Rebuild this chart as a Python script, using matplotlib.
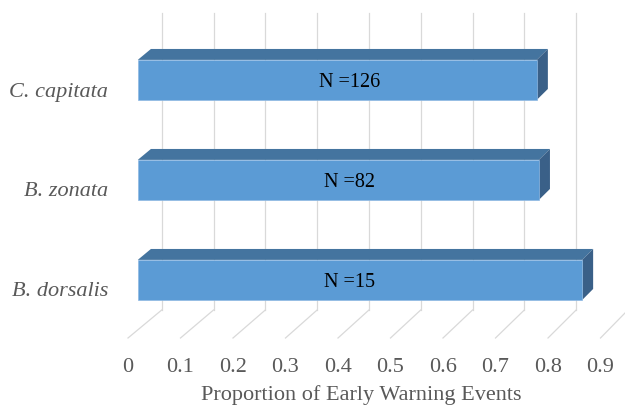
import matplotlib.pyplot as plt
from matplotlib.patches import Polygon

# data, bottom to top
species = ['B. dorsalis', 'B. zonata', 'C. capitata']
proportion = [0.85, 0.767, 0.763]
n_labels = ['N =15', 'N =82', 'N =126']
ticks = [0, 0.1, 0.2, 0.3, 0.4, 0.5, 0.6, 0.7, 0.8, 0.9]

# fake 3D: oblique projection (value, height, depth) -> axes data coords
DX = 0.0642
DY = 0.28
SHRINK = 0.0133
D_FRONT = 0.29
D_BACK = 0.68
BAR_H = 0.4
WALL_TOP = 2.97

def proj(v, y, d):
    return (DX * d + v * (1 - SHRINK * d), y + DY * d)

plt.rcParams['font.family'] = ['Liberation Serif', 'DejaVu Serif']
grey = '#595959'
front_col = '#5B9BD5'
top_col = '#44749F'
side_col = '#3A6088'
grid_col = '#d9d9d9'

fig = plt.figure(figsize=(6.25, 4.09), dpi=100)
ax = fig.add_axes([0, 0, 1, 1])
ax.set_xlim(-128 / 525, 497 / 525)
ax.set_ylim(-0.71, 3.38)
ax.axis('off')

# back wall verticals and floor diagonals
for t in ticks:
    x0, y0 = proj(t, 0, 1)
    x1, y1 = proj(t, WALL_TOP, 1)
    ax.plot([x0, x1], [y0, y1], color=grid_col, lw=0.9, zorder=1)
    xf, yf = proj(t, 0, 0)
    ax.plot([xf, x0], [yf, y0], color=grid_col, lw=0.9, zorder=1)
    ax.text(xf, -0.337, f'{t:g}', ha='center', va='baseline',
            fontsize=16, color=grey)

# bars
for i, (name, val, lab) in enumerate(zip(species, proportion, n_labels)):
    yb = i + 0.5 - BAR_H / 2
    yt = i + 0.5 + BAR_H / 2
    front = [proj(0, yb, D_FRONT), proj(val, yb, D_FRONT),
             proj(val, yt, D_FRONT), proj(0, yt, D_FRONT)]
    top = [proj(0, yt, D_FRONT), proj(val, yt, D_FRONT),
           proj(val, yt, D_BACK), proj(0, yt, D_BACK)]
    side = [proj(val, yb, D_FRONT), proj(val, yb, D_BACK),
            proj(val, yt, D_BACK), proj(val, yt, D_FRONT)]
    ax.add_patch(Polygon(top, closed=True, fc=top_col, ec='none', zorder=3))
    ax.add_patch(Polygon(side, closed=True, fc=side_col, ec='none', zorder=3))
    ax.add_patch(Polygon(front, closed=True, fc=front_col, ec='#8fb9e3',
                         lw=0.5, zorder=4))

    lx, ly = proj(0.405, i + 0.5, D_FRONT)
    ax.text(lx, ly - 0.07, lab, ha='center', va='baseline', fontsize=14.5,
            color='black', zorder=5)
    ax.text(-0.038, i + 0.5 - 0.085, name, ha='right', va='baseline',
            fontsize=16, style='italic', color=grey)

ax.text(0.445, -0.62, 'Proportion of Early Warning Events', ha='center',
        va='baseline', fontsize=16, color=grey)

plt.savefig('out.png', dpi=100)
